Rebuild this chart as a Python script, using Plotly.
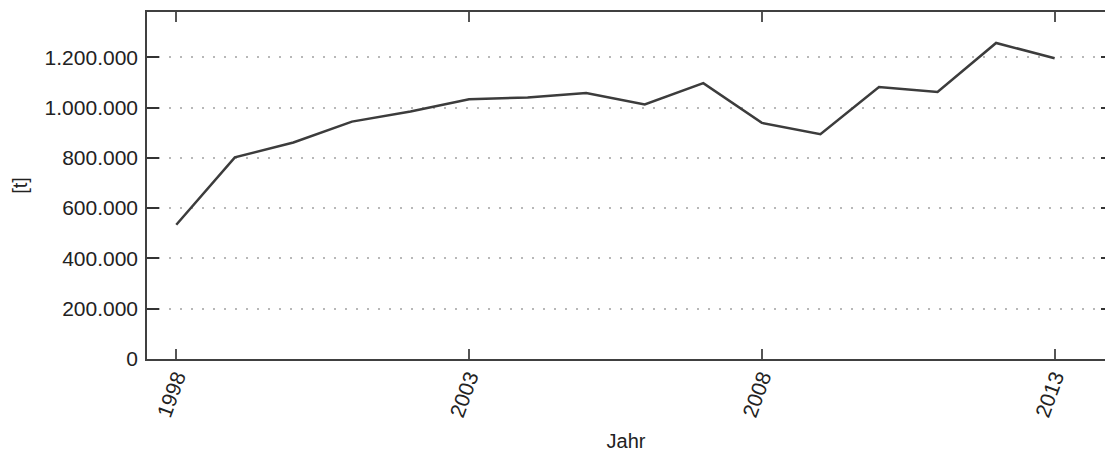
import plotly.graph_objects as go

years = list(range(1998, 2014))
tonnes = [534000, 802000, 861000, 944000, 984000, 1033000, 1040000, 1058000,
          1012000, 1097000, 939000, 894000, 1082000, 1062000, 1257000, 1196000]

x_ticks = [1998, 2003, 2008, 2013]
y_ticks = [0, 200000, 400000, 600000, 800000, 1000000, 1200000]
y_tick_labels = ["0", "200.000", "400.000", "600.000", "800.000", "1.000.000", "1.200.000"]

x_range = [1997.5, 2013.86]
y_range = [0, 1380000]

FONT = "Liberation Sans, Arial, sans-serif"
AXIS_COLOR = "#404040"

fig = go.Figure()
fig.add_trace(go.Scatter(
    x=years, y=tonnes, mode="lines",
    line=dict(color="#3c3c3c", width=2.5),
    showlegend=False, hoverinfo="x+y",
))
# invisible trace to carry the right-hand tick axis
fig.add_trace(go.Scatter(
    x=years, y=tonnes, mode="lines", yaxis="y2",
    line=dict(width=0), opacity=0, showlegend=False, hoverinfo="skip",
))

fig.update_layout(
    width=1105, height=452,
    margin=dict(l=147, r=0, t=12, b=93, autoexpand=False),
    paper_bgcolor="white", plot_bgcolor="white",
    font=dict(family=FONT, size=21, color="#222222"),
    xaxis=dict(
        range=x_range, tickmode="array", tickvals=x_ticks,
        ticktext=[str(v) for v in x_ticks], tickangle=-70,
        ticks="inside", ticklen=10, tickwidth=1.5, tickcolor="#555555",
        showline=True, linecolor=AXIS_COLOR, linewidth=1.5, mirror="ticks",
        showgrid=False, zeroline=False, automargin=False,
        ticklabelstandoff=-4,
        title=dict(text="Jahr", font=dict(size=20), standoff=15),
        tickfont=dict(size=21),
    ),
    yaxis=dict(
        range=y_range, tickmode="array", tickvals=y_ticks, ticktext=y_tick_labels,
        ticks="inside", ticklen=12, tickwidth=1.5, tickcolor="#333333",
        showline=True, linecolor=AXIS_COLOR, linewidth=1.5, mirror=False,
        showgrid=True, gridcolor="#b8b8b8", gridwidth=1.5, griddash="2px,9px",
        zeroline=False, automargin=False, ticklabelstandoff=3,
        title=dict(text="[t]", font=dict(size=20), standoff=12),
        tickfont=dict(size=21),
    ),
    yaxis2=dict(
        range=y_range, overlaying="y", side="right", tickmode="array",
        tickvals=y_ticks, ticks="inside", ticklen=4, tickwidth=1.5,
        tickcolor="#333333", showticklabels=False, showline=False,
        showgrid=False, zeroline=False, automargin=False,
    ),
)

fig.write_html(
    "out.html",
    config={"displayModeBar": False},
    post_script="document.body.style.margin='0';document.body.style.overflow='hidden';",
)
